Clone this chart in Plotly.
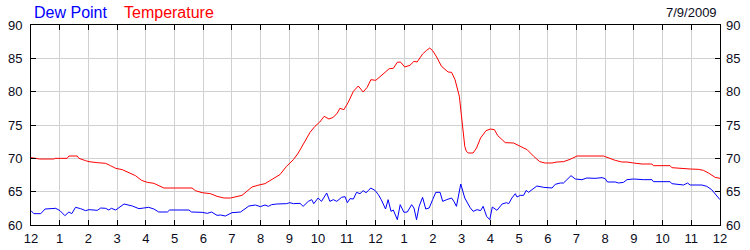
import plotly.graph_objects as go

# ---- data (hours after midnight, degrees F) ----
temp_hours = [0.0, 0.3, 0.8, 0.84, 1.26, 1.32, 1.61, 1.67, 1.9, 2.02, 2.31, 2.6, 2.77, 2.95, 3.18,
              3.41, 3.64, 3.85, 4.05, 4.28, 4.45, 4.63, 5.61, 5.73, 5.96, 6.25, 6.48, 6.72, 6.95,
              7.12, 7.35, 7.53, 7.7, 7.94, 8.15, 8.32, 8.5, 8.67, 8.9, 9.14, 9.31, 9.54, 9.72,
              9.89, 10.06, 10.21, 10.38, 10.53, 10.67, 10.76, 10.9, 11.05, 11.23, 11.4, 11.57,
              11.71, 11.84, 12.01, 12.15, 12.33, 12.48, 12.62, 12.76, 12.87, 13.02, 13.2, 13.34,
              13.45, 13.64, 13.78, 13.89, 14.0, 14.13, 14.3, 14.53, 14.65, 14.77, 14.92, 15.02,
              15.07, 15.11, 15.16, 15.23, 15.4, 15.52, 15.66, 15.85, 16.0, 16.14, 16.26, 16.52,
              16.81, 17.04, 17.28, 17.51, 17.72, 17.91, 18.15, 18.32, 18.55, 18.78, 19.02, 19.94,
              20.18, 20.35, 20.58, 20.76, 20.99, 21.28, 21.63, 21.68, 22.26, 22.32, 22.96, 23.25,
              23.42, 23.6, 23.83, 24.0]
temp_values = [70.1, 69.9, 69.9, 70.0, 70.0, 70.35, 70.35, 70.0, 69.65, 69.5, 69.35, 69.25, 68.9,
               68.5, 68.3, 67.8, 67.4, 66.7, 66.4, 66.25, 65.95, 65.55, 65.55, 65.15, 64.85, 64.7,
               64.3, 64.05, 64.05, 64.25, 64.45, 65.1, 65.7, 66.0, 66.2, 66.65, 67.1, 67.55, 68.8,
               69.8, 70.8, 72.55, 73.9, 74.8, 75.45, 76.3, 75.9, 76.15, 76.8, 77.5, 77.3, 78.4,
               80.05, 80.85, 79.95, 80.65, 81.8, 81.7, 82.2, 82.8, 83.45, 83.5, 84.4, 84.45, 83.7,
               83.95, 84.55, 84.45, 85.65, 86.2, 86.55, 86.1, 85.2, 83.8, 82.95, 82.9, 81.8, 79.3,
               75.8, 73.2, 71.8, 71.1, 70.8, 70.8, 71.55, 73.05, 74.15, 74.4, 74.3, 73.4, 72.35,
               72.3, 71.8, 71.3, 70.3, 69.5, 69.3, 69.3, 69.45, 69.5, 69.85, 70.35, 70.35, 69.9,
               69.7, 69.45, 69.45, 69.3, 69.15, 69.15, 68.9, 68.9, 68.6, 68.4, 68.35, 68.2, 67.8,
               67.15, 67.0]

dew_hours = [0.0, 0.1, 0.34, 0.49, 0.86, 1.01, 1.18, 1.26, 1.32, 1.42, 1.55, 1.73, 1.9, 2.02, 2.31,
             2.43, 2.6, 2.71, 2.8, 2.95, 3.24, 3.53, 3.76, 3.93, 4.1, 4.28, 4.45, 4.75, 4.83, 5.5,
             5.59, 5.96, 6.14, 6.29, 6.48, 6.6, 6.77, 7.0, 7.3, 7.59, 7.82, 7.99, 8.15, 8.27, 8.38,
             8.56, 8.9, 9.02, 9.14, 9.37, 9.48, 9.66, 9.78, 9.85, 10.0, 10.12, 10.3, 10.41, 10.53,
             10.65, 10.82, 10.94, 11.02, 11.11, 11.23, 11.34, 11.46, 11.57, 11.67, 11.75, 11.83,
             11.98, 12.1, 12.2, 12.35, 12.44, 12.54, 12.62, 12.76, 12.86, 12.99, 13.11, 13.26,
             13.34, 13.43, 13.52, 13.64, 13.75, 13.87, 13.99, 14.1, 14.25, 14.34, 14.48, 14.65,
             14.73, 14.82, 14.97, 15.11, 15.29, 15.4, 15.54, 15.66, 15.75, 15.87, 15.98, 16.07,
             16.23, 16.41, 16.56, 16.64, 16.75, 16.87, 16.93, 17.04, 17.16, 17.25, 17.33, 17.45,
             17.62, 17.86, 18.15, 18.26, 18.44, 18.55, 18.67, 18.81, 18.96, 19.19, 19.36, 19.65,
             19.89, 20.0, 20.08, 20.35, 20.47, 20.64, 20.76, 20.99, 21.34, 21.63, 21.68, 22.26,
             22.32, 22.73, 22.87, 22.96, 23.37, 23.54, 23.71, 23.89, 24.0]
dew_values = [62.15, 61.7, 61.7, 62.4, 62.5, 62.15, 61.4, 61.65, 61.95, 61.7, 62.65, 62.45, 62.15,
              62.3, 62.2, 62.55, 62.5, 62.25, 62.5, 62.25, 63.15, 62.85, 62.45, 62.55, 62.65, 62.4,
              61.95, 61.95, 62.25, 62.25, 61.95, 61.9, 61.75, 61.95, 61.45, 61.5, 61.35, 61.85,
              61.95, 62.85, 63.0, 62.75, 63.0, 62.8, 63.05, 63.15, 63.2, 63.35, 63.2, 63.25, 62.8,
              63.55, 63.8, 63.2, 64.05, 63.55, 64.8, 63.55, 63.8, 63.55, 64.15, 64.25, 63.35, 63.95,
              63.9, 64.9, 64.7, 65.15, 64.85, 65.15, 65.55, 65.2, 64.55, 63.8, 62.4, 63.8, 62.05,
              62.25, 60.8, 63.05, 61.9, 61.95, 63.05, 62.55, 60.8, 62.8, 64.15, 62.4, 62.55, 63.8,
              64.9, 64.9, 63.55, 63.8, 64.05, 63.55, 62.8, 66.15, 64.05, 62.65, 62.05, 62.3, 62.15,
              62.8, 61.3, 60.8, 62.7, 62.2, 63.15, 63.35, 63.2, 64.05, 64.7, 64.2, 64.45, 64.45,
              65.2, 64.9, 65.3, 65.85, 65.65, 65.55, 66.1, 66.3, 66.3, 66.8, 67.4, 66.9, 66.8,
              67.05, 67.0, 67.1, 66.95, 66.45, 66.45, 66.3, 66.4, 66.8, 66.9, 66.8, 66.8, 66.5,
              66.5, 66.2, 66.0, 66.3, 66.0, 66.0, 65.8, 65.3, 64.3, 63.8]

x_tick_vals = [0, 1, 2, 3, 4, 5, 6, 7, 8, 9, 10, 11, 12, 13, 14, 15, 16, 17, 18, 19, 20, 21, 22, 23, 24]
x_tick_text = ["12", "1", "2", "3", "4", "5", "6", "7", "8", "9", "10", "11",
               "12", "1", "2", "3", "4", "5", "6", "7", "8", "9", "10", "11", "12"]
y_tick_vals = [60, 65, 70, 75, 80, 85, 90]

series_names = ["Dew Point", "Temperature"]
date_label = "7/9/2009"

FONT = "Liberation Sans, Arial, sans-serif"
TICK_COLOR = "#0a0a20"

fig = go.Figure()
fig.add_trace(go.Scatter(x=dew_hours, y=dew_values, mode="lines", name=series_names[0],
                         line=dict(color="#0000ff", width=1)))
fig.add_trace(go.Scatter(x=temp_hours, y=temp_values, mode="lines", name=series_names[1],
                         line=dict(color="#ff0000", width=1)))
# invisible trace to carry the right-hand axis
fig.add_trace(go.Scatter(x=[0], y=[60], yaxis="y2", mode="markers", marker=dict(opacity=0),
                         showlegend=False, hoverinfo="skip"))

axis_common = dict(showgrid=True, gridcolor="#d0d0d0", gridwidth=1,
                   showline=True, linecolor="#000000", linewidth=1,
                   ticks="inside", ticklen=5, tickcolor="#000000", tickwidth=1,
                   zeroline=False, automargin=False,
                   tickfont=dict(family=FONT, size=13, color=TICK_COLOR))

fig.update_layout(
    width=750, height=250,
    margin=dict(l=31, r=30, t=25, b=25, pad=0, autoexpand=False),
    paper_bgcolor="#ffffff", plot_bgcolor="#ffffff",
    showlegend=False,
    xaxis=dict(range=[0, 24], tickvals=x_tick_vals, ticktext=x_tick_text,
               mirror="ticks", ticklabelstandoff=1, **axis_common),
    yaxis=dict(range=[60, 90], tickvals=y_tick_vals, mirror="ticks",
               ticklabelstandoff=5, **axis_common),
    yaxis2=dict(range=[60, 90], tickvals=y_tick_vals, overlaying="y", side="right",
                showgrid=False, showline=False, ticks="", zeroline=False,
                ticklabelstandoff=5, automargin=False,
                tickfont=dict(family=FONT, size=13, color=TICK_COLOR)),
    annotations=[
        dict(text=series_names[0], xref="paper", yref="paper", x=0.002, y=1.0625,
             xanchor="left", yanchor="middle", showarrow=False,
             font=dict(family=FONT, size=16, color="#0000ff")),
        dict(text=series_names[1], xref="paper", yref="paper", x=0.132, y=1.0625,
             xanchor="left", yanchor="middle", showarrow=False,
             font=dict(family=FONT, size=16, color="#ff0000")),
        dict(text=date_label, xref="paper", yref="paper", x=0.999, y=1.0625,
             xanchor="right", yanchor="middle", showarrow=False,
             font=dict(family=FONT, size=13, color=TICK_COLOR)),
    ],
)

fig.write_html("out.html")
